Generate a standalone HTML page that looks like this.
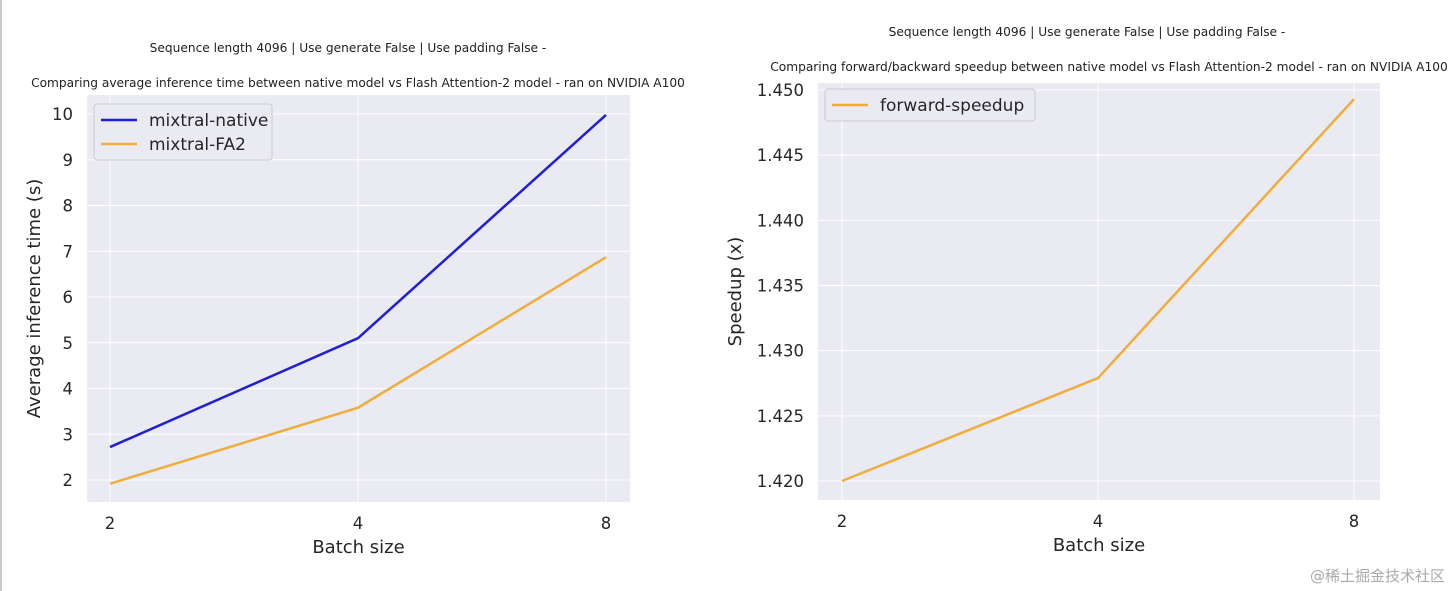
<!DOCTYPE html>
<html><head><meta charset="utf-8"><style>
body{margin:0;background:#fff;}
svg{display:block;font-family:"DejaVu Sans","Liberation Sans","Noto Sans CJK SC",sans-serif;}
</style></head><body>
<svg width="1451" height="591" id="fig">
<rect x="0" y="0" width="2" height="591" fill="#ccc"/>
<text x="348" y="52" font-size="12.2" text-anchor="middle" fill="#222">Sequence length 4096 | Use generate False | Use padding False -</text>
<text x="358" y="87" font-size="12.2" text-anchor="middle" fill="#222">Comparing average inference time between native model vs Flash Attention-2 model - ran on NVIDIA A100</text>
<text x="1087" y="36" font-size="12.2" text-anchor="middle" fill="#222">Sequence length 4096 | Use generate False | Use padding False -</text>
<text x="1109" y="71" font-size="12.2" text-anchor="middle" fill="#222">Comparing forward/backward speedup between native model vs Flash Attention-2 model - ran on NVIDIA A100</text>
<g id="left"></g>
<g id="right"></g>
<text x="1445" y="581" font-size="15" text-anchor="end" fill="#aaa">@稀土掘金技术社区</text>
</svg>
<script>
const batchLabels=["2","4","8"];
const nativeTimes=[2.72,5.1,9.98];
const fa2Times=[1.92,3.58,6.87];
const leftYTicks=[2,3,4,5,6,7,8,9,10];
const speedups=[1.420,1.4279,1.4493];
const rightYTicks=[1.420,1.425,1.430,1.435,1.440,1.445,1.450];
const NS="http://www.w3.org/2000/svg";
function mk(p,t,a){const e=document.createElementNS(NS,t);for(const k in a)e.setAttribute(k,a[k]);p.appendChild(e);return e;}
function chart(g,box,xs,yMin,yMax,yTicks,fmt,series,ylabel,ylabelX,legend){
 const xPos=i=>xs[0]+(xs[1]-xs[0])*i/(batchLabels.length-1);
 const yPos=v=>yMax[1]+(yMin[1]-yMax[1])*(v-yMax[0])/(yMin[0]-yMax[0]);
 const bg=mk(g,'rect',{x:box[0],y:box[1],width:box[2]-box[0],height:box[3]-box[1],fill:'#eaeaf2'});
 
 yTicks.forEach(v=>{const y=yPos(v);
  const l=mk(g,'line',{x1:box[0],x2:box[2],y1:y,y2:y,stroke:'#fff','stroke-width':1});
  
  const t=mk(g,'text',{x:box[0]-14,y:y+6,'font-size':16.5,'text-anchor':'end',fill:'#262626'});t.textContent=fmt(v);
  });
 batchLabels.forEach((b,i)=>{const x=xPos(i);
  const l=mk(g,'line',{x1:x,x2:x,y1:box[1],y2:box[3],stroke:'#fff','stroke-width':1});
  
  const t=mk(g,'text',{x:x,y:box[3]+27,'font-size':16.5,'text-anchor':'middle',fill:'#262626'});t.textContent=b;
  });
 series.forEach(s=>{const p=mk(g,'polyline',{points:s.v.map((v,i)=>xPos(i)+','+yPos(v)).join(' '),fill:'none',stroke:s.c,'stroke-width':2.5});
  });
 const xl=mk(g,'text',{x:(box[0]+box[2])/2,y:box[3]+51,'font-size':18,'text-anchor':'middle',fill:'#262626'});xl.textContent='Batch size';
 
 const cy=(box[1]+box[3])/2,cx=ylabelX;
 const yl=mk(g,'text',{x:cx,y:cy,'font-size':18,'text-anchor':'middle',fill:'#262626',transform:`rotate(-90 ${cx} ${cy})`});yl.textContent=ylabel;
 
 const lg=mk(g,'rect',{x:legend.x,y:legend.y,width:legend.w,height:series.length*24+8,rx:3,fill:'#eaeaf2',stroke:'#ccc'});
 
 series.forEach((s,i)=>{const y=legend.y+16+i*24;
  const l=mk(g,'line',{x1:legend.x+7,x2:legend.x+43,y1:y,y2:y,stroke:s.c,'stroke-width':2.5});
  
  const t=mk(g,'text',{x:legend.x+55,y:y+6,'font-size':17,fill:'#262626'});t.textContent=s.n;
  });
}
chart(document.getElementById('left'),[87,95,630,502],[110,606],[2,480],[10,114],leftYTicks,v=>String(v),
 [{n:'mixtral-native',v:nativeTimes,c:'#1f1fd6'},{n:'mixtral-FA2',v:fa2Times,c:'#f0ad3c'}],'Average inference time (s)',40,{x:94,y:104,w:178});
chart(document.getElementById('right'),[818,83,1380,500],[842,1354],[1.420,481],[1.450,90],rightYTicks,v=>v.toFixed(3),
 [{n:'forward-speedup',v:speedups,c:'#f0ad3c'}],'Speedup (x)',741,{x:825,y:89,w:210});
</script>
</body></html>
